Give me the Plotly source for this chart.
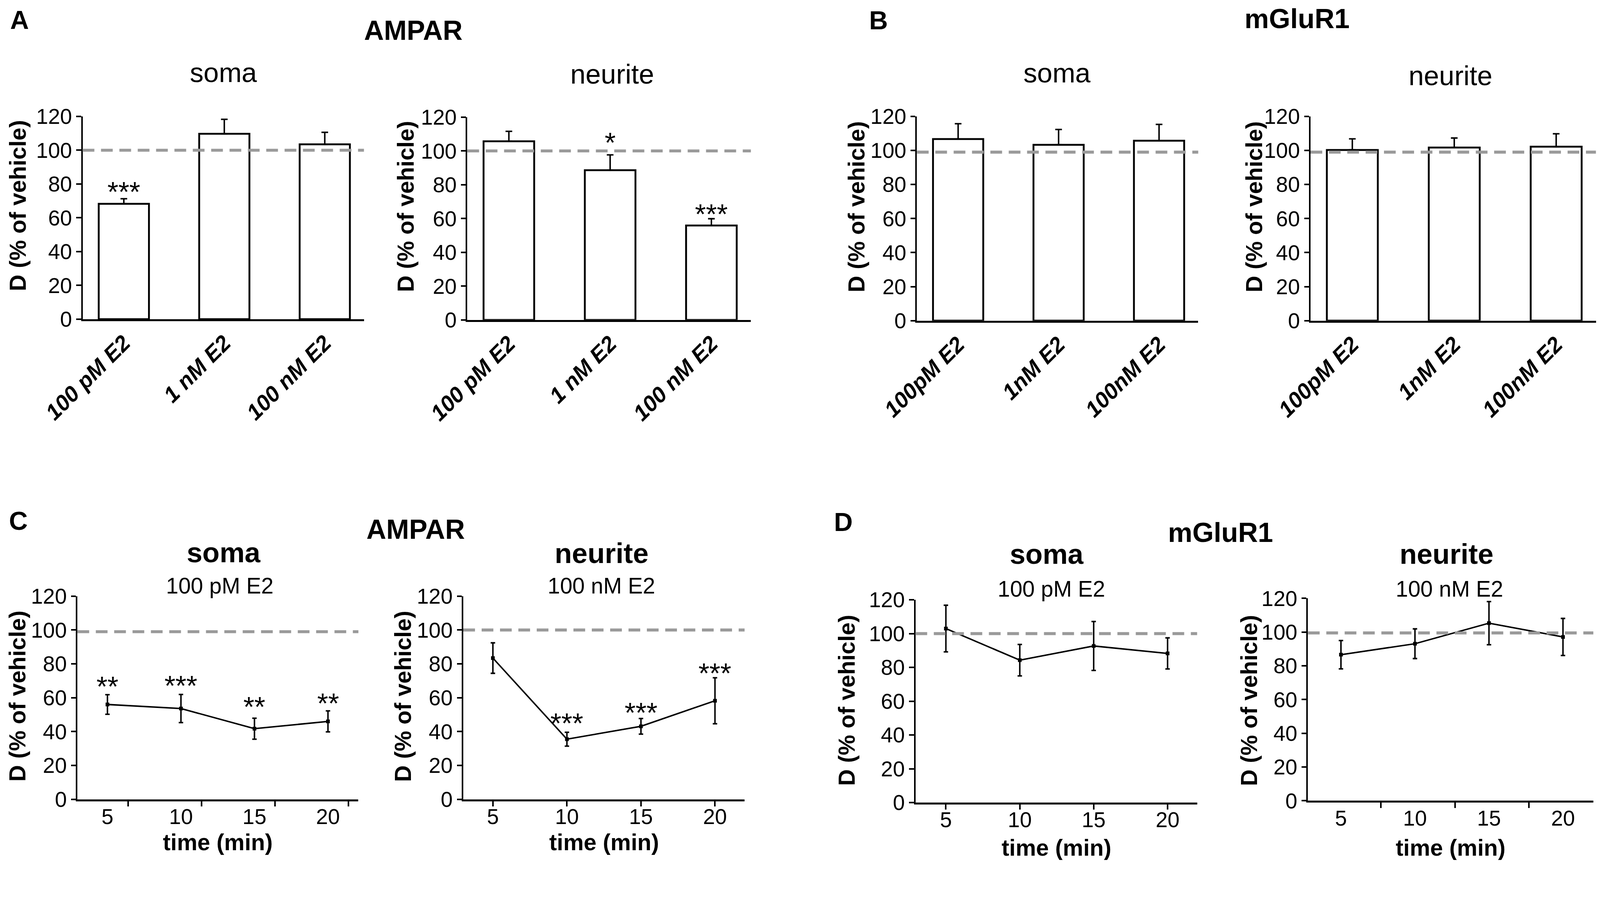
"""Estradiol effect on AMPAR / mGluR1 diffusion — 4-panel figure (A-D) in Plotly."""

import plotly.graph_objects as go

FONT = "Liberation Sans, Arial, sans-serif"

# ---- data -------------------------------------------------------------
# panels A/B: concentration bars (mean, upper SEM)
conc_ampar = ["100 pM E2", "1 nM E2", "100 nM E2"]
conc_mglur = ["100pM E2", "1nM E2", "100nM E2"]
bar_pos = [0, 1, 2]

ampar_soma = [68.3, 109.7, 103.5]
ampar_soma_sem = [3.0, 8.6, 7.1]
ampar_neurite = [105.7, 88.6, 55.9]
ampar_neurite_sem = [5.9, 9.1, 4.0]
mglur_soma = [106.7, 103.3, 105.7]
mglur_soma_sem = [9.0, 9.0, 9.6]
mglur_neurite = [100.3, 101.7, 102.2]
mglur_neurite_sem = [6.5, 5.6, 7.6]

ampar_soma_stars = ["***", "", ""]
ampar_soma_star_y = [79.7, None, None]
ampar_neurite_stars = ["", "*", "***"]
ampar_neurite_star_y = [None, 109.4, 67.1]

# panels C/D: time course (mean +/- SEM)
minutes = [5, 10, 15, 20]
ampar_soma_t = [56.0, 53.6, 41.7, 46.0]
ampar_soma_t_sem = [5.8, 8.3, 6.2, 6.2]
ampar_neurite_t = [83.4, 35.5, 43.1, 58.2]
ampar_neurite_t_sem = [9.0, 4.1, 4.6, 13.6]
mglur_soma_t = [103.0, 84.3, 92.7, 88.3]
mglur_soma_t_sem = [13.8, 9.3, 14.5, 9.2]
mglur_neurite_t = [86.6, 93.1, 105.3, 97.1]
mglur_neurite_t_sem = [8.4, 8.8, 12.8, 11.0]

ampar_soma_t_stars = ["**", "***", "**", "**"]
ampar_soma_t_star_y = [70.9, 71.4, 58.9, 61.1]
ampar_neurite_t_stars = ["", "***", "***", "***"]
ampar_neurite_t_star_y = [None, 49.3, 55.6, 78.8]

y_ticks = [0, 20, 40, 60, 80, 100, 120]
vehicle_level = [100, 100, 99, 99, 99, 100, 100, 99.5]

# ---- page geometry ----------------------------------------------------
# the shot is 4317 px wide for a 4096 css-px page; body keeps its 8px margin
S = 4317 / 4096
OFF = 8
FW, FH = 4096 - 2 * OFF, 2193


def px_x(p):
    return (p / S - OFF) / FW


def px_y(p):
    return 1 - (p / S - OFF) / FH


def sz(v):
    return v / S


# box = (left, right, top, bottom) in shot pixels
panels = [
    dict(kind="bar", box=(223, 982, 314, 861), cats=conc_ampar, y=ampar_soma, err=ampar_soma_sem,
         stars=ampar_soma_stars, star_y=ampar_soma_star_y, name="soma", name_xy=(603, 195), ytitle_xy=(48, 555)),
    dict(kind="bar", box=(1261, 2026, 316, 863), cats=conc_ampar, y=ampar_neurite, err=ampar_neurite_sem,
         stars=ampar_neurite_stars, star_y=ampar_neurite_star_y, name="neurite", name_xy=(1652, 200), ytitle_xy=(1095, 557)),
    dict(kind="bar", box=(2474, 3233, 314, 865), cats=conc_mglur, y=mglur_soma, err=mglur_soma_sem,
         stars=None, star_y=None, name="soma", name_xy=(2853, 197), ytitle_xy=(2311, 558)),
    dict(kind="bar", box=(3536, 4306, 314, 865), cats=conc_mglur, y=mglur_neurite, err=mglur_neurite_sem,
         stars=None, star_y=None, name="neurite", name_xy=(3914, 204), ytitle_xy=(3384, 558)),
    dict(kind="line", box=(209, 967, 1608, 2156), xr=[2.96, 22.07], y=ampar_soma_t, err=ampar_soma_t_sem,
         stars=ampar_soma_t_stars, star_y=ampar_soma_t_star_y, name="soma", name_xy=(603, 1490),
         sub="100 pM E2", sub_xy=(593, 1580), ytitle_xy=(47, 1878), minor=[6.4, 11.4, 16.4, 21.4], time_y=2272),
    dict(kind="line", box=(1250, 2009, 1608, 2156), xr=[3.0, 22.0], y=ampar_neurite_t, err=ampar_neurite_t_sem,
         stars=ampar_neurite_t_stars, star_y=ampar_neurite_t_star_y, name="neurite", name_xy=(1623, 1492),
         sub="100 nM E2", sub_xy=(1623, 1580), ytitle_xy=(1088, 1878), minor=None, time_y=2272),
    dict(kind="line", box=(2470, 3230, 1618, 2165), xr=[2.94, 22.0], y=mglur_soma_t, err=mglur_soma_t_sem,
         stars=None, star_y=None, name="soma", name_xy=(2824, 1495),
         sub="100 pM E2", sub_xy=(2837, 1588), ytitle_xy=(2284, 1889), minor=None, time_y=2287),
    dict(kind="line", box=(3529, 4299, 1614, 2160), xr=[2.77, 22.05], y=mglur_neurite_t, err=mglur_neurite_t_sem,
         stars=None, star_y=None, name="neurite", name_xy=(3903, 1494),
         sub="100 nM E2", sub_xy=(3911, 1588), ytitle_xy=(3370, 1889), minor=[7.7, 12.7, 17.7], time_y=2287),
]


def label(text, x, y, size, weight="normal", **kw):
    return dict(text=text, xref="paper", yref="paper", x=px_x(x), y=px_y(y), xanchor="center",
                yanchor="middle", showarrow=False,
                font=dict(family=FONT, size=sz(size), color="black", weight=weight), **kw)


fig = go.Figure()
layout = {}
annotations = []
shapes = []

for i, p in enumerate(panels):
    n = "" if i == 0 else str(i + 1)
    xref, yref = "x" + n, "y" + n
    left, right, top, bottom = p["box"]

    if p["kind"] == "bar":
        fig.add_trace(go.Bar(
            x=bar_pos, y=p["y"], width=0.5,
            marker=dict(color="white", line=dict(color="black", width=sz(5))),
            error_y=dict(type="data", symmetric=False, array=p["err"], arrayminus=[0] * len(p["err"]),
                         color="black", thickness=sz(4), width=sz(9)),
            xaxis=xref, yaxis=yref, showlegend=False,
        ))
        xaxis = dict(
            range=[-0.41, 2.39], tickvals=bar_pos, ticktext=p["cats"], tickangle=-45, ticks="",
            tickfont=dict(family=FONT, size=sz(60), color="black", weight="bold", style="italic"),
        )
        star_x = bar_pos
    else:
        fig.add_trace(go.Scatter(
            x=minutes, y=p["y"], mode="lines+markers",
            line=dict(color="black", width=sz(4)),
            marker=dict(symbol="square", size=sz(10), color="black"),
            error_y=dict(type="data", array=p["err"], color="black", thickness=sz(4), width=sz(6)),
            xaxis=xref, yaxis=yref, showlegend=False,
        ))
        xaxis = dict(
            range=p["xr"], tickvals=minutes, ticks="outside", ticklen=sz(14), tickwidth=sz(4),
            tickcolor="black" if p["minor"] is None else "rgba(0,0,0,0)",
            ticklabelstandoff=-21,
            tickfont=dict(family=FONT, size=sz(58), color="black"),
        )
        if p["minor"] is not None:
            xaxis["minor"] = dict(tickmode="array", tickvals=p["minor"], ticks="outside",
                                  ticklen=sz(14), tickwidth=sz(4), tickcolor="black", showgrid=False)
        star_x = minutes
        annotations.append(label("time (min)", (left + right) / 2, p["time_y"], 62, "bold"))
        annotations.append(label(p["sub"], p["sub_xy"][0], p["sub_xy"][1], 60))

    xaxis.update(domain=[px_x(left), px_x(right)], anchor=yref, showline=True, linecolor="black",
                 linewidth=sz(5), showgrid=False, zeroline=False, automargin=False)
    yaxis = dict(
        domain=[px_y(bottom), px_y(top)], anchor=xref, range=[0, 120], tickvals=y_ticks,
        showline=True, linecolor="black", linewidth=sz(4), ticks="outside", ticklen=sz(13),
        tickwidth=sz(4), tickcolor="black", showgrid=False, zeroline=False, automargin=False,
        tickfont=dict(family=FONT, size=sz(58), color="black"),
    )
    layout["xaxis" + n] = xaxis
    layout["yaxis" + n] = yaxis

    # vehicle reference line
    shapes.append(dict(
        type="line", xref=xref + " domain", yref=yref, x0=0, x1=1,
        y0=vehicle_level[i], y1=vehicle_level[i],
        line=dict(color="#9a9a9a", width=sz(8), dash="30px,17px"),
    ))

    # significance stars
    if p["stars"] is not None:
        for sx, s, sy in zip(star_x, p["stars"], p["star_y"]):
            if s:
                annotations.append(dict(
                    text=s, xref=xref, yref=yref, x=sx, y=sy, yshift=-sz(20), showarrow=False,
                    xanchor="center", yanchor="middle",
                    font=dict(family=FONT, size=sz(76), color="black"),
                ))

    annotations.append(label("D (% of vehicle)", p["ytitle_xy"][0], p["ytitle_xy"][1], 62, "bold",
                             textangle=-90))
    if p["kind"] == "bar":
        annotations.append(label(p["name"], p["name_xy"][0], p["name_xy"][1], 74))
    else:
        annotations.append(label(p["name"], p["name_xy"][0], p["name_xy"][1], 76, "bold"))

# panel letters and receptor headers
headers = [
    ("A", 53, 54, 70), ("B", 2370, 55, 70), ("C", 50, 1405, 70), ("D", 2276, 1408, 70),
    ("AMPAR", 1115, 82, 74), ("mGluR1", 3500, 50, 74), ("AMPAR", 1121, 1428, 74), ("mGluR1", 3293, 1436, 74),
]
for text, hx, hy, size in headers:
    annotations.append(label(text, hx, hy, size, "bold"))

fig.update_layout(
    **layout,
    width=FW, height=FH,
    margin=dict(l=0, r=0, t=0, b=0),
    paper_bgcolor="white", plot_bgcolor="white",
    font=dict(family=FONT, color="black"),
    annotations=annotations,
    shapes=shapes,
)

fig.write_html("out.html")
